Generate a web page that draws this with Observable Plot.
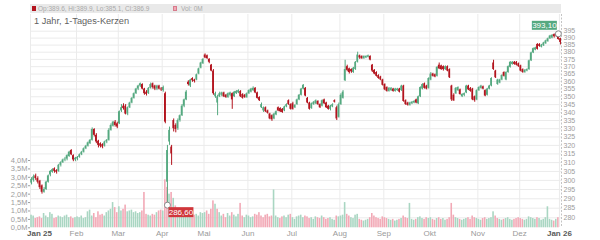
<!DOCTYPE html>
<html><head><meta charset="utf-8">
<script src="https://cdn.jsdelivr.net/npm/d3@7"></script>
<script src="https://cdn.jsdelivr.net/npm/@observablehq/plot@0.6"></script>
<style>
body{margin:0;background:#fff;font-family:"Liberation Sans",Arial,sans-serif;}
#wrap{position:relative;width:600px;height:240px;overflow:hidden;background:#fff;}
#wrap svg{position:absolute;left:0;top:0;}
#hdr{position:absolute;left:30px;top:4px;width:531px;height:9px;background:#e9e9e9;z-index:5;}
#hdr span{position:absolute;top:0;font-size:6.5px;line-height:9px;color:#a9a9a9;white-space:nowrap;}
#hdr i{position:absolute;top:2px;width:4px;height:5px;}
#title{position:absolute;left:34px;top:17.2px;font-size:9.2px;line-height:9.2px;color:#5f5f5f;z-index:5;white-space:nowrap;}
</style></head>
<body>
<div id="wrap">
  <div id="hdr"><i id="sq1"></i><span id="ohlc" style="left:8px"></span><i id="sq2" style="left:143px"></i><span id="vol" style="left:151px"></span></div>
  <div id="title">1 Jahr, 1-Tages-Kerzen</div>
</div>
<script>
const opens = [
298.5,300,302.5,301,299.5,297,293.5,295,299,303,
304.5,306.5,305.5,305,308.5,310,311.5,312,313.5,317,
314,311.5,312,313,314.5,316,318,319.5,321,323,
329.5,326,322.5,321,320.5,319.5,322,323,329,331.5,
334,333,333,341,344,344,339,343,346,349,
352,355,357,358,355,353,352,355.5,358.5,357,
355,357,355,354,352,299,322,319,335,332,
330,335,338,344,348,359.5,357,362,361,361,
365,369,372,378,377.5,375,371,367,350,346,
350,351,352.5,351,349.5,351,352,350,352,352.5,
353.5,351.5,351,349.5,352,353,354,355.5,352.5,349.5,
343,341,343,341,339,338,336,338.5,343,342.5,
342,341,343.5,347.5,345,345.5,343,345,348,351,
355,355.5,349,346,342.5,345,345.5,347,345,344,
348,346,344,342,343.5,347.5,343,337,345,349,
360.5,370,368.5,368,366,368,373,377.5,377,375.5,
376,376.5,377,371,367.5,366,364,363,361,358,
356,353.5,354,355,353.5,354,355,354,357,347.5,
346,344.5,345.5,346,348,345.5,350,355,358.5,357,
355.5,361,365,364.5,363.5,371,370.5,370,368,370,
368,357,351,352,354,354.5,350,351,352.5,357,
355.5,355,350,348,354,355.5,356.5,354,351,355,
357,372.5,367,358,359,361,366,361,366,369.5,
371.5,373,373,372,370.5,368,366,367,368,374,
379.5,381.5,385.5,385.5,383.5,384.5,386,387.5,389.5,390,
392.5,392.5,392,389.6];
const highs = [
301.5,303,303.5,302,300,297.5,296,299.5,303,305.5,
306.5,307,306,309,310.5,312,313,314.5,316.5,317.5,
314.5,313,313.5,315,316.5,318.5,320,322,323.5,330.5,
330,327,323,321.5,321,322.5,323.5,330,333,334.5,
335,334,341,345,345.5,345,343.5,346.5,349.5,352.5,
355.5,357.5,359,358.5,355.5,354,356,359,359,357.5,
357.5,357.5,356,357,353,320,331,320,336,333,
336,338.5,345,348.5,354,360.5,361.5,362.5,361.5,365,
369,373,375.5,378.8,378,375.5,371.5,368,353,351,
353,353,353,351.5,352.5,353,352.5,353.5,354,354.5,
354,352,351.5,352.5,354.5,355.5,356.5,356,353,350,
346,343.5,343.5,341.5,339.5,338.5,339.5,341,343.5,343,
342.5,344,345.5,348,345.5,346.5,345,348.5,351.5,355.5,
358,356,349.5,346.5,346,347,348,347.5,345.5,348,
348.5,346.5,344.5,344.5,345.5,348,344,346,352,354,
374.4,371,369,368.5,369.5,373.5,380,378,377.5,377.5,
377.5,378,377.5,371.5,368,366.5,364.5,363.5,361.5,358.5,
356.5,356,356,355.5,355.5,355.5,355.5,357.5,357.5,348,
346.5,346.5,347,347.5,348.5,350.5,356.5,358.5,359,357.5,
362.5,366,365.5,365,370,372.5,371,370.5,370.5,370.5,
368.5,357.5,352,356,356.5,355,352,352.5,357.5,357.5,
356,355.5,350.5,354.5,356.5,357.5,357,354.5,355.5,357.5,
362.5,374.4,367.5,361.5,361.5,364.5,366.5,366.5,370.5,373.5,
373.5,373.5,373.5,372.5,371,368.5,368,368.5,374.5,380,
383,383.5,386,386,385.5,387,388.5,390,392,392.5,
393,393,393.1,389.9];
const lows = [
297.5,299,300,298,295,292.5,293,294.5,298.5,302,
304,304,303.5,304.5,307.5,309.5,310.5,311,313,314,
310.5,310.5,311,312.5,314,315.5,317.5,319,320.5,322.5,
325,321,318.5,318.5,318,319,321,322.5,328.5,331,
331,330,332.5,340,341.5,338.5,338,342.5,345.5,348.5,
351.5,354,356,354.5,351,350.5,351.5,355,355,354,
354,354.5,353.5,353,333,286.6,320,308.4,328,327.5,
329,334,337.5,343,347.5,357,356,359.5,359,360.5,
364.5,368.5,371.5,375.5,375,372,366.5,351,349,338,
349.5,350,349.5,349,349,350,342,349.5,351.5,352,
349.5,348.5,349,349,351.5,352.5,353.5,352,348.5,347,
342.5,340,340,339,335.5,334.5,335.5,338,340.5,340,
339.5,340.5,343,344.5,341.5,341.5,342.5,344.5,347.5,350.5,
354.5,350,345.5,341.5,342,344.5,345,344.5,342.5,343.5,
345,342.5,341.5,341,343,346,335,336.5,344.5,348.5,
360,366.5,365,365.5,365.5,367.5,372.5,375,375,375,
375.5,376,374,366,364.5,363,361.5,360.5,357,354,
353,353,353.5,353,353,353.5,352.5,353.5,346.5,344.5,
344,344,345,345.5,345.5,345,349.5,354.5,355,354.5,
355,360.5,363,362.5,363,368,367.5,367,367.5,366.5,
362,347,347,351.5,353.5,351,349.5,350,352,354,
353,347.5,346.5,347.5,353.5,355,354.5,350,350.5,354.5,
356.5,367.5,362,357.5,358.5,360.5,363,360.5,365.5,369,
371,371,370.5,369.5,366.5,365.5,365.5,366.5,367.5,373.5,
379,381,381.5,383.5,383,384,385.5,387,389,389.5,
390,390.5,388.5,385.1];
const closes = [
300.5,302,301,299,296,293.5,295,299,302.5,305,
306,305,304.5,308.5,310,311.5,312,314,316,314.5,
311.5,312.5,313,314.5,316,318,319.5,321.5,323,329.5,
326,322,320,319.5,319,322,323,329,332,334,
332,331,340.5,343,342.5,339,343,346,349,352,
355,357,358.5,355,352,351.5,355.5,358,356,355,
357,355,354.5,356,334,317,329,315,330,329.5,
335,338,344,348,353,358,361,360.5,360,364.5,
368.5,372.5,375,376,375.5,373,367,352,352,350,
352,352.5,350,349.5,352,352.5,348,353,353.5,354,
350,349,349.5,352,354,355,355.5,352.5,349,347.5,
345,343,340.5,339.5,336,335.5,339,340.5,341,340.5,
340,343.5,345,345,342,342,344.5,348,351,355,
357.5,350.5,346,342,345.5,346.5,347.5,345,343,347.5,
345.5,343,342,344,345,346.5,336,345,351,353,
368,367.5,366,366.5,369,373,378,376,375.5,377,
377,377.5,374.5,367,365,363.5,362,361,357.5,354.5,
353.5,355.5,355.5,353.5,355,355,353,357,347,345,
344.5,346,346.5,347,346,350,356,358,355.5,355,
362,365,363.5,363,369.5,368.5,368,368,370,367,
362.5,348,347.5,355.5,356,351.5,351.5,352,357,354.5,
353.5,348,347.5,354,356,357,355,350.5,355,357,
362,368,362.5,361,361,364,363.5,366,370,373,
373,371.5,371,370,367,366,367.5,368,374,379.5,
382.5,383,382,384,385,386.5,388,389.5,391.5,392,
391,391.5,389,386.9];
const volumes = [
0.75,0.7,0.55,0.6,0.65,0.55,0.85,0.7,0.6,0.9,0.8,0.55,0.6,0.7,0.65,0.6,0.7,0.75,0.6,0.65,0.55,0.6,
0.65,0.6,0.7,0.55,0.6,0.95,1.05,0.7,0.85,0.6,0.95,0.75,0.8,0.7,0.9,1.0,1.1,1.5,1.2,0.9,
1.25,1.0,1.1,1.35,0.95,1.0,1.05,0.9,0.95,0.85,0.9,1.0,2.1,0.8,0.75,0.7,0.8,0.75,0.9,1.0,1.05,
1.0,2.85,2.4,2.0,2.1,1.75,1.3,1.1,0.9,1.0,0.8,0.95,0.85,0.7,0.6,0.75,0.8,0.7,0.9,0.85,
0.9,1.0,0.8,1.1,1.6,1.4,1.1,0.9,0.7,0.8,0.6,0.85,0.7,0.9,0.75,0.65,0.8,1.45,0.7,0.6,0.75,
0.7,0.6,0.65,0.8,0.75,0.9,0.7,0.6,0.75,0.8,0.65,0.7,2.25,0.7,0.6,0.55,0.65,0.7,0.6,0.75,0.8,
0.6,0.5,0.65,0.7,0.75,0.6,0.7,0.65,0.55,0.6,0.5,0.65,0.6,0.55,0.7,0.6,0.5,0.55,0.6,0.5,0.45,0.7,0.65,
0.7,0.75,1.5,0.8,0.7,0.6,0.55,0.75,0.8,0.5,0.45,0.4,0.45,0.5,0.6,0.85,0.7,0.6,0.55,0.5,0.65,
0.6,0.55,0.5,0.45,0.5,0.4,0.45,0.5,0.55,0.7,0.6,0.55,1.45,0.5,0.45,0.5,0.6,0.65,0.55,0.5,0.6,0.55,
0.6,0.5,0.45,0.55,0.6,0.5,0.55,0.45,0.5,0.6,1.45,0.75,0.6,0.55,0.5,0.45,0.5,0.55,0.6,0.5,0.7,0.6,0.55,
0.5,0.45,0.55,0.6,0.5,0.55,0.6,0.95,0.7,0.55,0.5,0.45,0.5,0.55,0.6,0.5,0.45,0.5,0.55,0.6,
0.55,0.5,0.45,0.5,0.65,0.6,0.55,0.5,0.6,0.55,0.45,0.5,0.6,1.25,0.5,0.45,0.4,0.5,0.6,0];
const monthStarts = [0,22,42,63,83,104,125,148,169,191,214,234,253];
const monthLabels = ["Jan 25","Feb","Mar","Apr","Mai","Jun","Jul","Aug","Sep","Okt","Nov","Dez","Jan 26"];
const priceTicks = [280,285,290,295,300,305,310,315,320,325,330,335,340,345,350,355,360,365,370,375,380,385,390,395];
const volumeTicks = [0,0.5,1,1.5,2,2.5,3,3.5,4];

const UP = "#55a980", DOWN = "#b3141e", VUP = "#a9d6c2", VDOWN = "#f2a9b6";
const FONT = "'Liberation Sans', Arial, sans-serif";
const rows = closes.map((c, i) => ({
  i, o: opens[i], h: highs[i], l: lows[i], c, v: volumes[i],
  up: c >= opens[i],
  vup: i === 0 ? c >= opens[i] : c >= closes[i - 1]
}));
const N = rows.length;
const labelOf = new Map(monthStarts.map((m, k) => [m, monthLabels[k]]));
const common = {width: 600, height: 240, marginLeft: 30, marginRight: 39, marginTop: 14, marginBottom: 13};
const xDom = {domain: [0, N], label: null};
const yPrice = {type: "log", domain: [280, 395], range: [217.3, 30.7], label: null};

// Layer A: grid + price axis + month axis
const A = Plot.plot({
  ...common,
  style: {background: "#fff", fontFamily: FONT, fontSize: "7px", overflow: "visible"},
  x: {...xDom}, y: {...yPrice},
  marks: [
    Plot.ruleY(priceTicks, {stroke: "#ebebeb"}),
    Plot.ruleX(monthStarts, {stroke: "#ebebeb"}),
    Plot.ruleX([N], {stroke: "#c4c4c4", strokeDasharray: "2,1.5"}),
    Plot.axisY(priceTicks, {anchor: "right", label: null, tickSize: 0, tickPadding: 2, tickFormat: d => String(d), color: "#9d9d9d"}),
    Plot.axisX(monthStarts, {anchor: "bottom", label: null, tickSize: 0, tickPadding: 3, tickFormat: d => labelOf.get(d), color: "#9a9a9a", fontSize: 8})
  ]
});
d3.select(A).selectAll("text").filter(function(){ return this.textContent.startsWith("Jan"); })
  .attr("font-weight", "bold").attr("fill", "#5a5a5a");
d3.select(A).selectAll("text").filter(function(){ return this.textContent === monthLabels[0]; })
  .attr("dx", 9);

// Layer B: volume
const B = Plot.plot({
  ...common,
  style: {background: "transparent", fontFamily: FONT, fontSize: "7.5px", overflow: "visible"},
  x: {...xDom, axis: null},
  y: {domain: [0, 4], range: [227.3, 160], label: null},
  color: {type: "identity"},
  marks: [
    Plot.rect(rows, {x1: d => d.i + 0.12, x2: d => d.i + 0.88, y1: 0, y2: "v", fill: d => d.vup ? VUP : VDOWN}),
    Plot.axisY(volumeTicks, {anchor: "left", label: null, tickSize: 2, tickPadding: 1, tickFormat: d => d.toFixed(1).replace(".", ",") + "M", color: "#9d9d9d"})
  ]
});

// Layer C: candles
const lowI = d3.minIndex(lows), highI = d3.maxIndex(highs);
const marks = [{i: lowI + 0.5, p: lows[lowI]}, {i: highI + 0.5, p: highs[highI]}];
const C = Plot.plot({
  ...common,
  style: {background: "transparent", fontFamily: FONT, fontSize: "8px", overflow: "visible"},
  x: {...xDom, axis: null}, y: {...yPrice, axis: null},
  color: {type: "identity"},
  marks: [
    Plot.ruleX(rows, {x: d => d.i + 0.5, y1: "l", y2: "h", stroke: d => d.up ? UP : DOWN, strokeWidth: 1}),
    Plot.rect(rows, {x1: d => d.i + 0.1, x2: d => d.i + 0.9, y1: "o", y2: "c", fill: d => d.up ? UP : DOWN}),
    Plot.dot(marks, {x: "i", y: "p", r: 3, fill: "#fff", stroke: "#8a8a8a", strokeWidth: 1})
  ]
});
const xs = C.scale("x"), ys = C.scale("y");
const svgC = d3.select(C);
function tag(px, py, txt, fill, dx, dy, w, h) {
  const g = svgC.append("g");
  g.append("rect").attr("x", px + dx).attr("y", py + dy).attr("width", w).attr("height", h).attr("fill", fill);
  g.append("text").attr("x", px + dx + w / 2).attr("y", py + dy + h / 2).attr("dy", "0.35em")
    .attr("text-anchor", "middle").attr("fill", "#fff").attr("font-size", "8px").text(txt);
}
const fmt = p => p.toFixed(2).replace(".", ",");
tag(xs.apply(marks[0].i), ys.apply(marks[0].p), fmt(marks[0].p), "#d0363b", 1.5, 2.5, 25, 10);
tag(xs.apply(marks[1].i), ys.apply(marks[1].p), fmt(marks[1].p), "#55a980", -26, -12.5, 25, 9);

const wrap = document.getElementById("wrap");
wrap.insertBefore(A, wrap.firstChild);
wrap.insertBefore(B, A.nextSibling);
wrap.insertBefore(C, B.nextSibling);

// header from last candle
const last = rows[N - 1];
document.getElementById("ohlc").textContent =
  `Op:${last.o.toFixed(1)}, Hi:${last.h.toFixed(1)}, Lo:${last.l.toFixed(1)}, Cl:${last.c.toFixed(1)}`;
document.getElementById("vol").textContent = `Vol: ${Math.round(last.v)}M`;
const s1 = document.getElementById("sq1");
s1.style.left = "2px"; s1.style.background = last.up ? UP : DOWN;
const s2 = document.getElementById("sq2");
s2.style.background = last.vup ? VUP : VDOWN; s2.style.boxSizing = "border-box"; s2.style.border = "1px solid #d77b8c";
</script>
</body></html>
